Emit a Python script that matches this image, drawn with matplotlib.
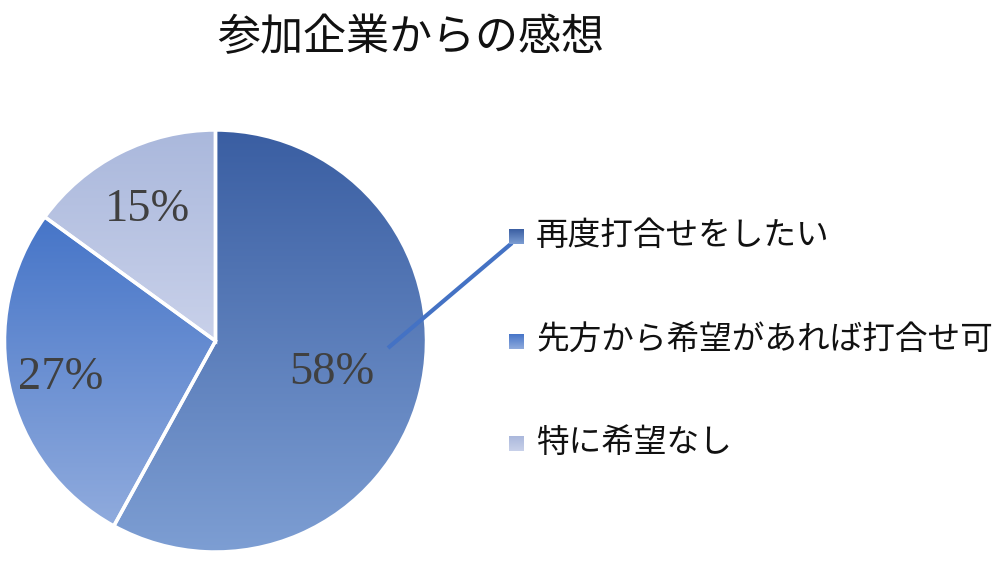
import numpy as np
import matplotlib
matplotlib.use("Agg")
import matplotlib.pyplot as plt
from matplotlib.colors import LinearSegmentedColormap

plt.rcParams['font.family'] = ['Noto Sans CJK JP', 'DejaVu Sans']

title = "参加企業からの感想"
categories = ["再度打合せをしたい", "先方から希望があれば打合せ可", "特に希望なし"]
values = [58, 27, 15]
pct_labels = ["58%", "27%", "15%"]

# gradient (top, bottom) per slice
grad_colors = [("#3A5EA2", "#7D9ED3"), ("#4675C8", "#90ABDD"), ("#AAB8DC", "#C9D1EA")]
label_dist = [0.57, 0.75, 0.71]

W, H = 1002, 561
fig = plt.figure(figsize=(W / 100, H / 100), dpi=100)
ax = fig.add_axes([0, 0, 1, 1])

cx, cy, R = 215.5, H - 341, 211
wedges, _ = ax.pie(values, center=(cx, cy), radius=R, startangle=90, counterclock=False,
                   wedgeprops=dict(linewidth=2.5, edgecolor='white'), frame=True)
ax.set_xlim(0, W)
ax.set_ylim(0, H)
ax.set_aspect('equal')
ax.axis('off')

grad = np.linspace(0, 1, 256).reshape(-1, 1)
for w, (ct, cb) in zip(wedges, grad_colors):
    cmap = LinearSegmentedColormap.from_list('g', [cb, ct])
    path = w.get_path().transformed(w.get_patch_transform())
    ext = path.get_extents()
    im = ax.imshow(grad, cmap=cmap, vmin=0, vmax=1, aspect='auto',
                   extent=(ext.x0, ext.x1, ext.y0, ext.y1), origin='lower', zorder=1)
    im.set_clip_path(w)
    w.set_facecolor('none')
    w.set_zorder(2)

for w, lab, d in zip(wedges, pct_labels, label_dist):
    mid = np.deg2rad((w.theta1 + w.theta2) / 2)
    ax.text(cx + d * R * np.cos(mid), cy + d * R * np.sin(mid) - 2, lab,
            ha='center', va='center', fontsize=33.5, color='#404040',
            family=['Liberation Serif', 'DejaVu Serif'], zorder=3)

# leader line
ax.plot([388, 512], [H - 348, H - 243], color='#4472C4', lw=3, zorder=3, solid_capstyle='butt')

# legend
leg_y = [236, 341, 443]
for (ct, cb), cat, y in zip(grad_colors, categories, leg_y):
    cmap = LinearSegmentedColormap.from_list('g', [cb, ct])
    ax.imshow(grad, cmap=cmap, vmin=0, vmax=1, aspect='auto',
              extent=(509, 524, H - y - 7.5, H - y + 7.5), origin='lower', zorder=3)
    ax.text(536, H - y, cat, ha='left', va='center', fontsize=23.5, color='#111111', zorder=3)

ax.text(411, H - 38, title, ha='center', va='center', fontsize=31, color='#111111')

fig.savefig("out.png", dpi=100)
